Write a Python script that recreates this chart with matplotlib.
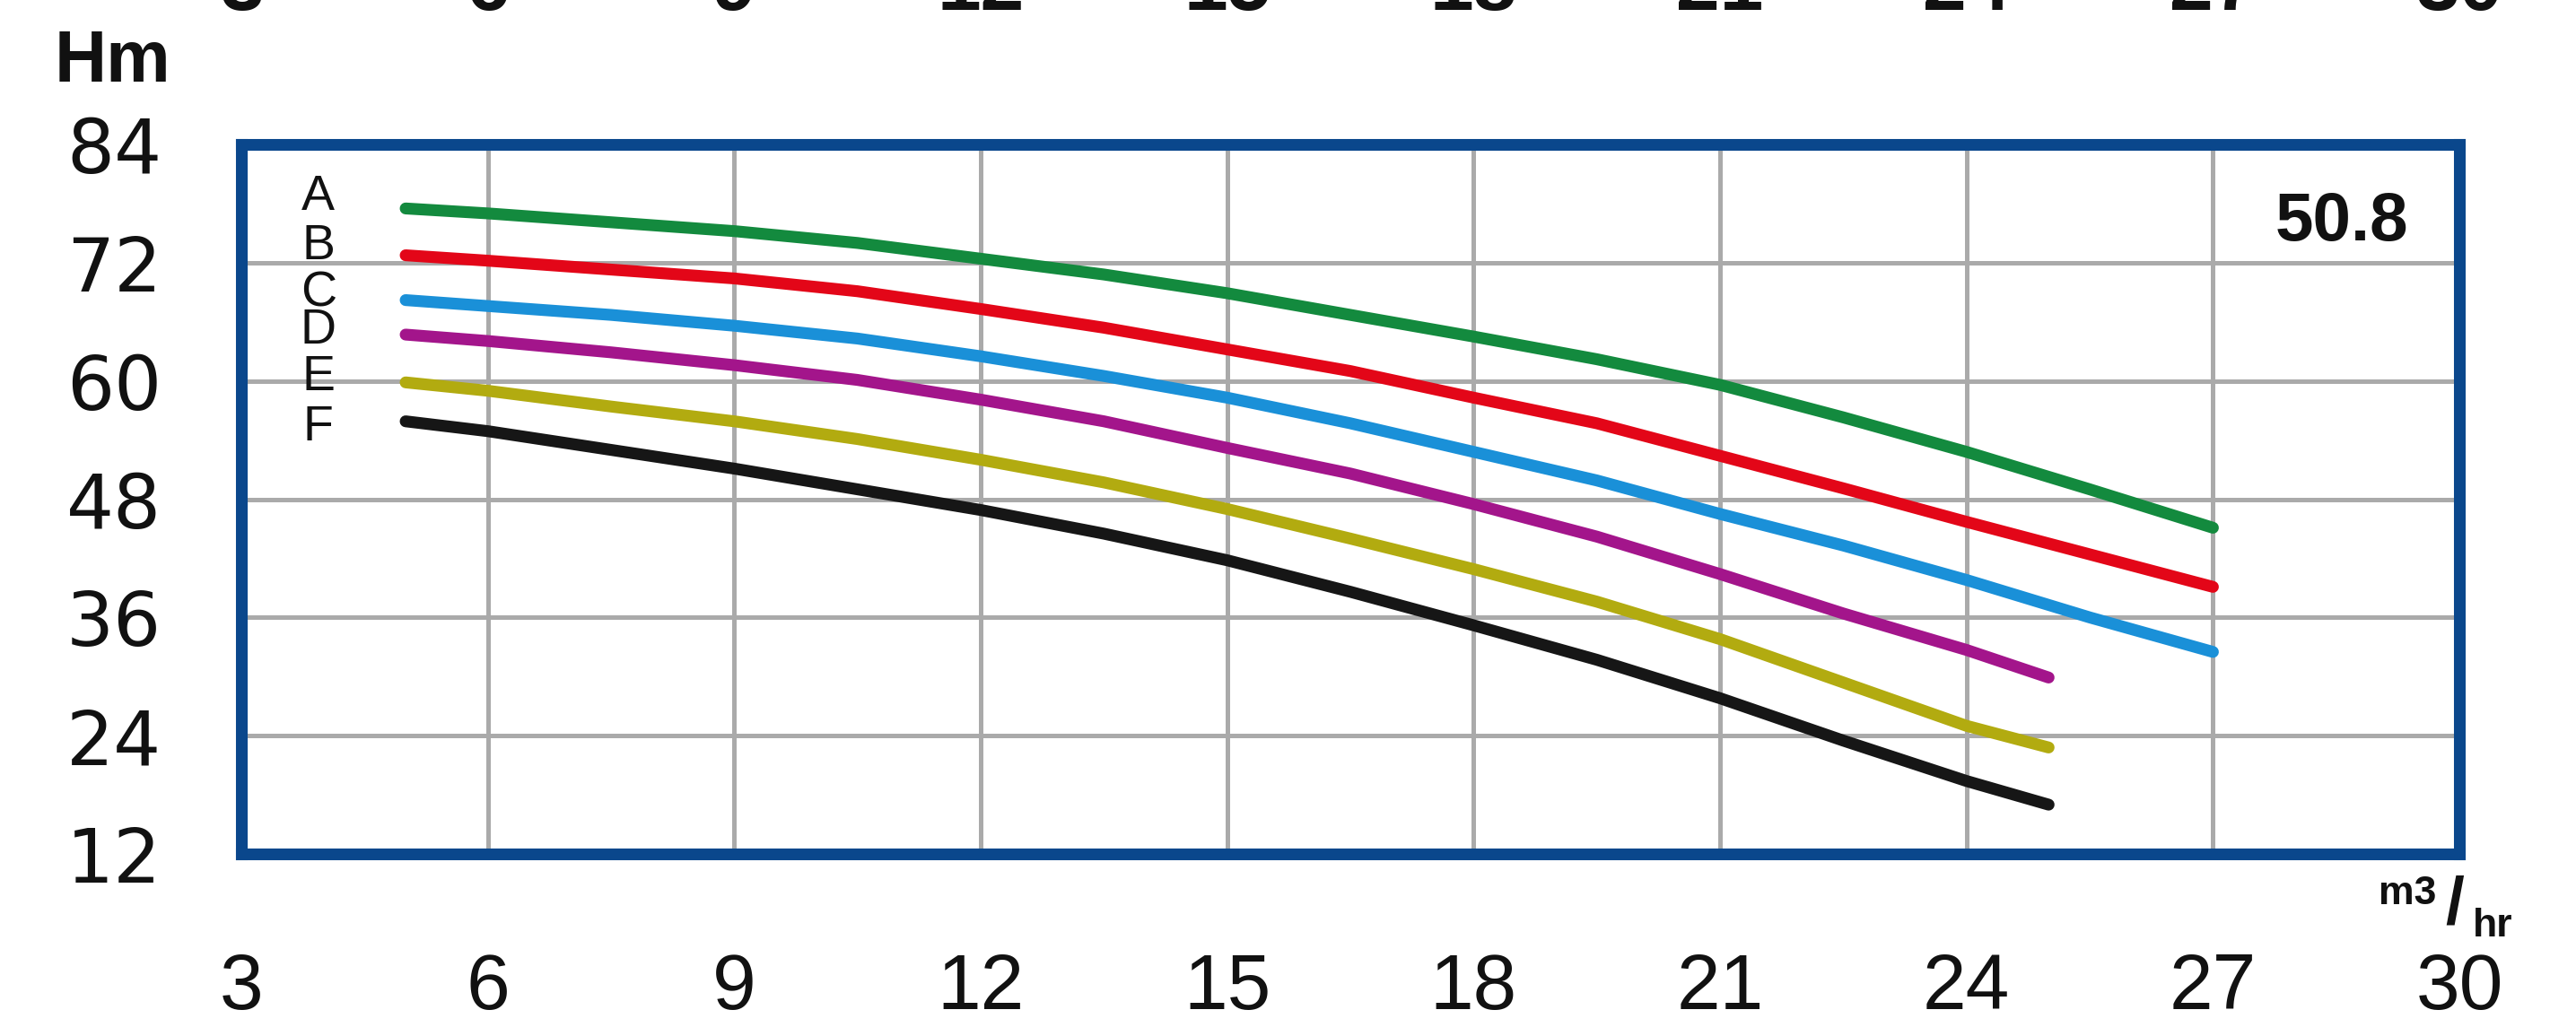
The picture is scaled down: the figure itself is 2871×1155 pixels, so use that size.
import matplotlib
matplotlib.use("Agg")
import matplotlib.pyplot as plt

# flow (m3/hr) and head (m)
flow_long = [5, 6, 7.5, 9, 10.5, 12, 13.5, 15, 16.5, 18, 19.5, 21, 22.5, 24, 25.5, 27]
flow_short = [5, 6, 7.5, 9, 10.5, 12, 13.5, 15, 16.5, 18, 19.5, 21, 22.5, 24, 25]

head_A = [77.5, 77.0, 76.1, 75.2, 74.0, 72.4, 70.8, 68.9, 66.7, 64.5, 62.2, 59.6, 56.3, 52.8, 49.0, 45.1]
head_B = [72.75, 72.2, 71.3, 70.4, 69.1, 67.3, 65.4, 63.2, 61.0, 58.3, 55.7, 52.4, 49.1, 45.7, 42.4, 39.1]
head_C = [68.2, 67.6, 66.7, 65.6, 64.3, 62.5, 60.5, 58.3, 55.7, 52.8, 49.9, 46.5, 43.3, 39.8, 36.0, 32.5]
head_D = [64.7, 64.05, 62.9, 61.6, 60.1, 58.1, 55.9, 53.2, 50.6, 47.5, 44.2, 40.4, 36.4, 32.7, 29.9]
head_E = [59.85, 59.0, 57.4, 55.9, 54.1, 52.0, 49.7, 47.0, 44.0, 40.9, 37.6, 33.8, 29.4, 25.0, 22.8]
head_F = [55.9, 54.9, 53.0, 51.1, 49.0, 46.9, 44.5, 41.8, 38.6, 35.2, 31.7, 27.8, 23.5, 19.4, 17.0]

curve_names = ['A', 'B', 'C', 'D', 'E', 'F']
x_ticks = [3, 6, 9, 12, 15, 18, 21, 24, 27, 30]
y_ticks = [12, 24, 36, 48, 60, 72, 84]
model_label = '50.8'

curves = [
    (flow_long, head_A, '#138a3e'),
    (flow_long, head_B, '#e30618'),
    (flow_long, head_C, '#1a90d8'),
    (flow_short, head_D, '#a3158b'),
    (flow_short, head_E, '#b2ab10'),
    (flow_short, head_F, '#161616'),
]
# little vertical nudges (points) for the letter labels
label_nudge = [9, 7, 5, 3, 4, -5]

frame_blue = '#0a478c'
ink = '#111111'

fig = plt.figure(figsize=(28.71, 11.55), dpi=100)
ax = fig.add_axes([269 / 2871, 1 - 952 / 1155, (2741 - 269) / 2871, (952 - 161) / 1155])

for (xs, ys, col), name, dy in zip(curves, curve_names, label_nudge):
    ax.plot(xs, ys, color=col, lw=9.5, solid_capstyle='round', solid_joinstyle='round', zorder=3)
    ax.annotate(name, (xs[0], ys[0]), xytext=(-70, dy), textcoords='offset points',
                ha='center', va='center', fontsize=40, family='Liberation Sans', color=ink)

ax.set_xlim(3, 30)
ax.set_ylim(12, 84)
ax.set_xticks(x_ticks)
ax.set_yticks(y_ticks)
ax.grid(True, color='#aaaaaa', lw=3.6, zorder=1)
ax.set_axisbelow(True)

for sp in ax.spines.values():
    sp.set_color(frame_blue)
    sp.set_linewidth(9.4)
    sp.set_zorder(5)

ax.tick_params(axis='both', length=0)
ax.tick_params(axis='y', pad=64, labelsize=60)
ax.tick_params(axis='x', pad=79, labelsize=63)
for lab in ax.get_yticklabels():
    lab.set_family('DejaVu Sans')
    lab.set_color(ink)
for lab in ax.get_xticklabels():
    lab.set_family('Liberation Sans')
    lab.set_color(ink)

# copy of the flow scale at the top, cut off by the image edge
top = ax.secondary_xaxis('top')
top.set_xticks(x_ticks)
top.tick_params(length=0, pad=95, labelsize=63)
for sp in top.spines.values():
    sp.set_visible(False)
for lab in top.get_xticklabels():
    lab.set_family('Liberation Sans')
    lab.set_weight('bold')
    lab.set_color(ink)

ax.text(0.947, 0.89, model_label, transform=ax.transAxes, ha='center', va='center',
        fontsize=55, family='Liberation Sans', fontweight='bold', color=ink)

fig.text(125 / 2871, 1 - 70 / 1155, 'Hm', ha='center', va='center', fontsize=58,
         family='Liberation Sans', fontweight='bold', color=ink)

fig.text(2683 / 2871, 1 - 996 / 1155, 'm3', ha='center', va='center', fontsize=32,
         family='Liberation Sans', fontweight='bold', color=ink)
fig.text(2736 / 2871, 1 - 1010 / 1155, '/', ha='center', va='center', fontsize=54,
         family='Liberation Sans', fontweight='bold', color=ink)
fig.text(2778 / 2871, 1 - 1033 / 1155, 'hr', ha='center', va='center', fontsize=32,
         family='Liberation Sans', fontweight='bold', color=ink)

fig.savefig('out.png', dpi=100, facecolor='white')
